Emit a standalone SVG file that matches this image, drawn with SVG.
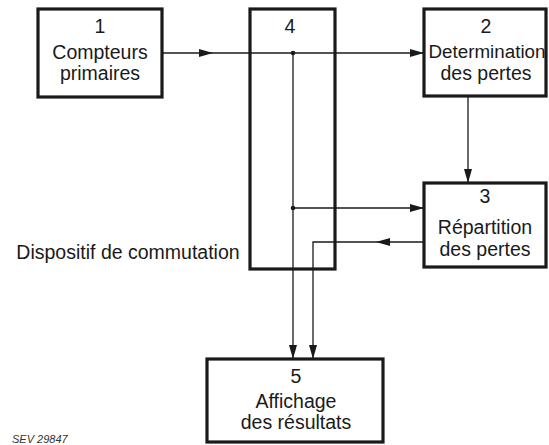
<svg xmlns="http://www.w3.org/2000/svg" width="549" height="445" viewBox="0 0 549 445">
<style>
.box{fill:#fff;stroke:#1a1a1a;stroke-width:3.2}
.t{font-family:"Liberation Sans",Arial,sans-serif;font-size:19.5px;fill:#1a1a1a;text-anchor:middle}
.w{stroke:#1a1a1a;stroke-width:1.3;fill:none}
</style>
<defs>
<marker id="ah" viewBox="0 0 14 8" refX="14" refY="4" markerWidth="14" markerHeight="8" markerUnits="userSpaceOnUse" orient="auto">
<path d="M0,0 L14,4 L0,8 Z" fill="#1a1a1a"/>
</marker>
<marker id="mid" viewBox="0 0 14 8" refX="7" refY="4" markerWidth="14" markerHeight="8" markerUnits="userSpaceOnUse" orient="auto">
<path d="M0,0 L14,4 L0,8 Z" fill="#1a1a1a"/>
</marker>
</defs>
<rect width="549" height="445" fill="#fff"/>
<g id="node1"><rect class="box" x="38" y="9" width="124" height="88"/>
<text class="t" x="100" y="33">1</text><text class="t" x="100" y="59">Compteurs</text><text class="t" x="100" y="80">primaires</text></g>
<g id="node4"><rect class="box" x="250" y="9" width="85" height="260"/>
<text class="t" x="290" y="33">4</text></g>
<g id="node2"><rect class="box" x="424" y="9" width="122" height="87"/>
<text class="t" x="486" y="33">2</text><text class="t" x="487" y="58" style="font-size:18.8px">Determination</text><text class="t" x="486" y="80">des pertes</text></g>
<g id="node3"><rect class="box" x="424" y="183" width="122" height="84"/>
<text class="t" x="485" y="203">3</text><text class="t" x="485" y="234">Répartition</text><text class="t" x="485" y="256">des pertes</text></g>
<g id="node5"><rect class="box" x="207" y="359" width="176" height="83"/>
<text class="t" x="296" y="383">5</text><text class="t" x="296" y="408">Affichage</text><text class="t" x="296" y="429">des résultats</text></g>
<g id="labels">
<text class="t" x="128" y="259">Dispositif de commutation</text>
<text x="12" y="443" style="font-family:'Liberation Sans',Arial,sans-serif;font-size:11px;font-style:italic;fill:#333">SEV 29847</text>
</g>
<g id="connectors">
<path class="w" d="M162,53 L213,53" marker-end="url(#ah)"/>
<path class="w" d="M213,53 L424,53" marker-end="url(#ah)"/>
<path class="w" d="M293,53 L293,359" marker-end="url(#ah)"/>
<path class="w" d="M293,208 L424,208" marker-end="url(#ah)"/>
<path class="w" d="M468,96 L468,183" marker-end="url(#ah)"/>
<path class="w" d="M424,242 L383,242" marker-end="url(#mid)"/>
<path class="w" d="M383,242 L313,242 L313,359" marker-end="url(#ah)"/>
<circle cx="293" cy="53" r="2.3" fill="#1a1a1a"/>
<circle cx="293" cy="208" r="2.3" fill="#1a1a1a"/>
</g>
</svg>
